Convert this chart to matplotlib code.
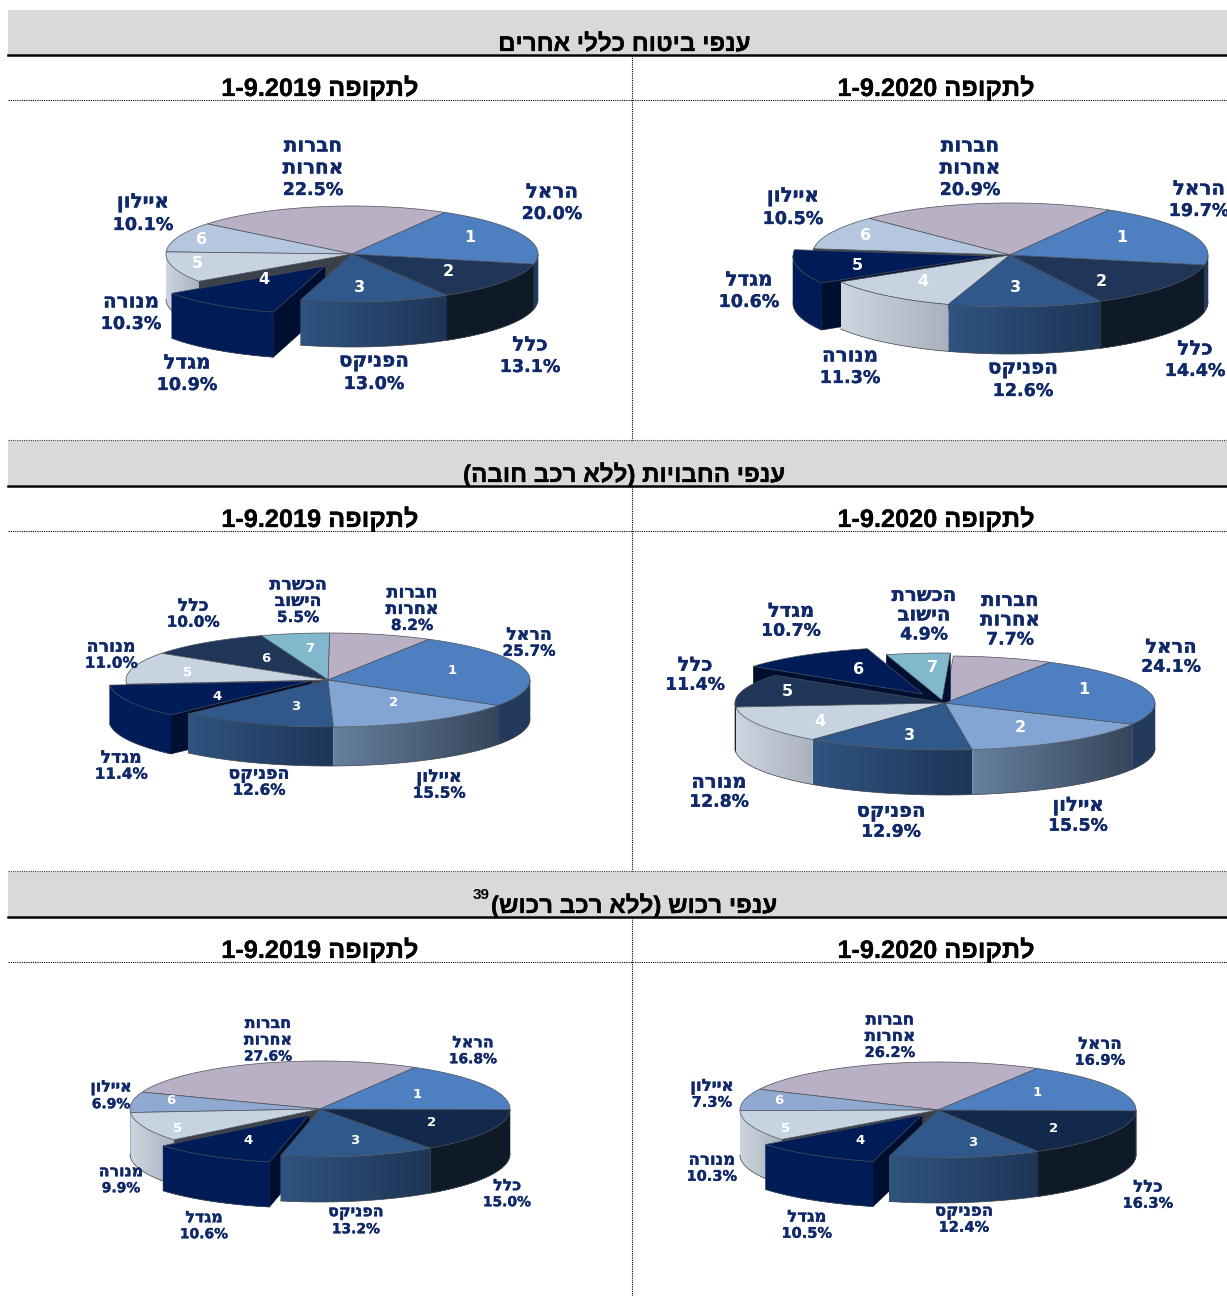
import re
import numpy as np
import matplotlib
matplotlib.use('Agg')
import matplotlib.pyplot as plt
import matplotlib.patheffects as pe
from matplotlib.patches import Polygon, Rectangle

# ---------- data ----------
HAREL, CLAL, PHOENIX, MENORA, MIGDAL, AYALON, OTHERS, HACH = (
    'הראל', 'כלל', 'הפניקס', 'מנורה', 'מגדל', 'איילון', 'חברות\nאחרות', 'הכשרת\nהישוב')

section_titles = ['ענפי ביטוח כללי אחרים', 'ענפי החבויות (ללא רכב חובה)', 'ענפי רכוש (ללא רכב רכוש)']
period_titles = ['לתקופה 1-9.2020', 'לתקופה 1-9.2019']
footnote_mark = '39'

general_2020_names = [HAREL, CLAL, PHOENIX, MENORA, MIGDAL, AYALON, OTHERS]
general_2020_values = [19.7, 14.4, 12.6, 11.3, 10.6, 10.5, 20.9]
general_2019_names = [HAREL, CLAL, PHOENIX, MIGDAL, MENORA, AYALON, OTHERS]
general_2019_values = [20.0, 13.1, 13.0, 10.9, 10.3, 10.1, 22.5]
liability_2020_names = [HAREL, AYALON, PHOENIX, MENORA, CLAL, MIGDAL, HACH, OTHERS]
liability_2020_values = [24.1, 15.5, 12.9, 12.8, 11.4, 10.7, 4.9, 7.7]
liability_2019_names = [HAREL, AYALON, PHOENIX, MIGDAL, MENORA, CLAL, HACH, OTHERS]
liability_2019_values = [25.7, 15.5, 12.6, 11.4, 11.0, 10.0, 5.5, 8.2]
property_2020_names = [HAREL, CLAL, PHOENIX, MIGDAL, MENORA, AYALON, OTHERS]
property_2020_values = [16.9, 16.3, 12.4, 10.5, 10.3, 7.3, 26.2]
property_2019_names = [HAREL, CLAL, PHOENIX, MIGDAL, MENORA, AYALON, OTHERS]
property_2019_values = [16.8, 15.0, 13.2, 10.6, 9.9, 6.9, 27.6]

# ---------- styles ----------
LABEL_COLOR = '#10296A'
GREY_BAND = '#D9D9D9'
CUT_FACE = '#000E30'
TOP = {HAREL: '#4E80C1', CLAL: '#1F3658', PHOENIX: '#30588A', MENORA: '#C8D3E1',
       MIGDAL: '#001C58', AYALON: '#B5C7DE', OTHERS: '#B9B0C5', HACH: '#82B8CC'}
SIDE = {HAREL: ('#233A5C', '#233A5C'), CLAL: ('#0E1A28', '#0E1A28'),
        PHOENIX: ('#2F5480', '#1E3556'), MENORA: ('#CCD5E0', '#A8B1BC'),
        MIGDAL: ('#001C58', '#001C58'), AYALON: ('#66809F', '#36465A'),
        OTHERS: ('#8A8494', '#8A8494'), HACH: ('#5E8A9A', '#5E8A9A')}

panels = [
    dict(names=general_2020_names, values=general_2020_values, c=(1010, 255), rx=198, ry=52, depth=47,
         start=60, explode={MIGDAL: (-19, 1)}, fs=12.6, nfs=11.5, pitch=22, overrides={},
         pos=[(1199, 200), (1195, 360), (1023, 380), (850, 367), (749, 291), (793, 208), (970, 168)],
         numpos=[(1122, 238), (1101, 281), (1015, 288), (923, 282), (857, 265), (866, 235)]),
    dict(names=general_2019_names, values=general_2019_values, c=(352, 254), rx=186, ry=48, depth=45,
         start=60, explode={MIGDAL: (-27, 12)}, fs=12.6, nfs=11.5, pitch=22, overrides={},
         pos=[(552, 203), (530, 356), (374, 373), (187, 374), (131, 313), (143, 214), (313, 168)],
         numpos=[(470, 237), (448, 272), (359, 287), (264, 280), (197, 263), (202, 239)]),
    dict(names=liability_2020_names, values=liability_2020_values, c=(945, 703), rx=210, ry=47, depth=45,
         start=60, explode={MIGDAL: (-22, -9), HACH: (-3, -3)}, fs=12.4, nfs=11.5, pitch=19.5,
         overrides={AYALON: '#82A5D4'},
         pos=[(1171, 657), (1078, 816), (891, 822), (719, 792), (695, 675), (791, 621), (924, 615), (1010, 620)],
         numpos=[(1084, 689), (1020, 728), (909, 735), (820, 722), (787, 691), (859, 669), (932, 667)]),
    dict(names=liability_2019_names, values=liability_2019_values, c=(328, 680), rx=202, ry=47, depth=39,
         start=60, explode={MIGDAL: (-17, 1)}, fs=11.0, nfs=9.5, pitch=16.5,
         overrides={AYALON: '#82A5D4'},
         pos=[(529, 643), (439, 785), (259, 782), (121, 766), (111, 655), (193, 614), (298, 601), (412, 609)],
         numpos=[(452, 670), (394, 702), (296, 707), (217, 697), (188, 673), (266, 658), (310, 649)]),
    dict(names=property_2020_names, values=property_2020_values, c=(938, 1110), rx=198, ry=48, depth=45,
         start=60, explode={MIGDAL: (-16, 5)}, fs=10.5, nfs=9.5, pitch=16.5,
         overrides={AYALON: '#8FA9D0', CLAL: '#13294B'},
         pos=[(1100, 1052), (1148, 1195), (964, 1219), (807, 1225), (712, 1168), (712, 1094), (890, 1036)],
         numpos=[(1037, 1093), (1054, 1128), (973, 1143), (860, 1140), (786, 1128), (779, 1100)]),
    dict(names=property_2019_names, values=property_2019_values, c=(320, 1109), rx=190, ry=48, depth=45,
         start=60, explode={MIGDAL: (-11, 6)}, fs=10.0, nfs=9.5, pitch=16.5,
         overrides={AYALON: '#8FA9D0', CLAL: '#13294B'},
         pos=[(473, 1051), (507, 1194), (356, 1221), (204, 1226), (121, 1180), (111, 1096), (268, 1040)],
         numpos=[(417, 1094), (432, 1122), (355, 1141), (248, 1140), (178, 1128), (171, 1101)]),
]


def vis(s):
    """Hebrew logical order to visual order (matplotlib has no bidi)."""
    r = s[::-1]
    r = re.sub(r'[0-9.\-]+', lambda m: m.group(0)[::-1], r)
    return r.translate(str.maketrans('()', ')('))


fig = plt.figure(figsize=(12.27, 12.96), dpi=100, facecolor='white')
ax = fig.add_axes([0, 0, 1, 1])
ax.axis('off')

Z = [2.0]


def nz():
    Z[0] += 0.01
    return Z[0]


def draw_slice_side(name, ta, tb, off, p):
    cx, cy = p['c'][0] + off[0], p['c'][1] + off[1]
    rx, ry, d = p['rx'], p['ry'], p['depth']
    ts = np.linspace(ta, tb, max(2, int(abs(ta - tb) * 2) + 1))
    vis_t = ts[np.sin(np.radians(ts)) <= 0.0]
    if len(vis_t) < 2:
        return
    rad = np.radians(vis_t)
    x = cx + rx * np.cos(rad)
    y = cy - ry * np.sin(rad)
    pts = list(zip(x, y)) + list(zip(x[::-1], y[::-1] + d))
    c1, c2 = SIDE[name]
    if c1 == c2:
        ax.add_patch(Polygon(pts, closed=True, facecolor=c1, edgecolor=c1, lw=0.4, zorder=nz()))
    else:
        clip = Polygon(pts, closed=True, facecolor='none', edgecolor='none', transform=ax.transData)
        rgb1, rgb2 = np.array(matplotlib.colors.to_rgb(c1)), np.array(matplotlib.colors.to_rgb(c2))
        g = np.linspace(0, 1, 128)[None, :, None]
        img = rgb1[None, None, :] + (rgb2 - rgb1)[None, None, :] * g
        im = ax.imshow(img, extent=(x.min(), x.max(), y.max() + d, y.min()), aspect='auto',
                       interpolation='bilinear', zorder=nz())
        im.set_clip_path(clip)
    ax.plot(x, y + d, color='#3A3E46', lw=0.5, zorder=nz())


def draw_face(t, off, p, color):
    cx, cy = p['c'][0] + off[0], p['c'][1] + off[1]
    x = cx + p['rx'] * np.cos(np.radians(t))
    y = cy - p['ry'] * np.sin(np.radians(t))
    d = p['depth']
    ax.add_patch(Polygon([(cx, cy), (x, y), (x, y + d), (cx, cy + d)], closed=True,
                         facecolor=color, edgecolor=color, lw=0.4, zorder=nz()))


def draw_top(color, ta, tb, off, p):
    cx, cy = p['c'][0] + off[0], p['c'][1] + off[1]
    ts = np.radians(np.linspace(ta, tb, 90))
    pts = [(cx, cy)] + list(zip(cx + p['rx'] * np.cos(ts), cy - p['ry'] * np.sin(ts)))
    ax.add_patch(Polygon(pts, closed=True, facecolor=color, edgecolor='#4A4F58', lw=0.5, zorder=nz()))


def draw_pie(p):
    vals = np.array(p['values'], float)
    frac = vals / vals.sum()
    edges = p['start'] - 360 * np.concatenate([[0], np.cumsum(frac)])
    top = {**TOP, **p['overrides']}
    n_s = len(vals)
    moved = [p['names'][i] in p['explode'] for i in range(n_s)]
    # paint from the last slice back to the first so nearer slices overlap farther ones
    for i in range(n_s - 1, -1, -1):
        name = p['names'][i]
        off = p['explode'].get(name, (0, 0))
        col = CUT_FACE if moved[i] else '#3C4048'
        if (moved[i] or (i > 0 and moved[i - 1])) and np.cos(np.radians(edges[i])) < 0:
            draw_face(edges[i], off, p, col)
        if (moved[i] or (i < n_s - 1 and moved[i + 1])) and np.cos(np.radians(edges[i + 1])) > 0:
            draw_face(edges[i + 1], off, p, col)
        draw_slice_side(name, edges[i], edges[i + 1], off, p)
        draw_top(top[name], edges[i], edges[i + 1], off, p)

    for n, (nx, ny) in enumerate(p['numpos'], start=1):
        ax.text(nx, ny, str(n), color='white', fontsize=p['nfs'], fontweight='bold',
                family='DejaVu Sans', ha='center', va='center', zorder=50)
    for i in range(n_s):
        name = p['names'][i]
        lines = name.split('\n') + [f'{p["values"][i]:.1f}%']
        x0, yc = p['pos'][i]
        for j, line in enumerate(lines):
            is_pct = j == len(lines) - 1
            ax.text(x0, yc + (j - (len(lines) - 1) / 2) * p['pitch'],
                    line if is_pct else vis(line), color=LABEL_COLOR,
                    fontsize=p['fs'] * (1.0 if is_pct else 1.14),
                    fontweight='bold', family='DejaVu Sans', ha='center', va='center', zorder=50,
                    path_effects=[pe.withStroke(linewidth=0.2, foreground=LABEL_COLOR)])


# ---------- frame ----------
band_tops = [10, 441, 872]
for k, by in enumerate(band_tops):
    ax.add_patch(Rectangle((8, by), 1219, 44, facecolor=GREY_BAND, edgecolor='none', zorder=0.5))
    ax.plot([8, 1227], [by + 44.5, by + 44.5], color='black', lw=1.8, zorder=1)
    ax.plot([8, 1227], [by + 90, by + 90], color='black', lw=0.8, ls=(0, (1, 1)), zorder=1)
    if k > 0:
        ax.plot([8, 1227], [by - 1, by - 1], color='#333333', lw=0.8, ls=(0, (1, 1)), zorder=1)
    bottom = band_tops[k + 1] - 1 if k < 2 else 1296
    ax.plot([631.5, 631.5], [by + 45, bottom], color='black', lw=0.8, ls=(0, (1, 1)), zorder=1)

title_x = [624, 624, 634]
title_fx = [pe.withStroke(linewidth=0.2, foreground='black')]
for k, by in enumerate(band_tops):
    ax.text(title_x[k], by + 41, vis(section_titles[k]), fontsize=17.4, fontweight='bold',
            family='Liberation Sans', ha='center', va='baseline', color='black', path_effects=title_fx)
    ax.text(936, by + 86, vis(period_titles[0]), fontsize=18.2, fontweight='bold',
            family='Liberation Sans', ha='center', va='baseline', color='black', path_effects=title_fx)
    ax.text(320, by + 86, vis(period_titles[1]), fontsize=18.2, fontweight='bold',
            family='Liberation Sans', ha='center', va='baseline', color='black', path_effects=title_fx)
ax.text(481, 895, footnote_mark, fontsize=11, fontweight='bold', family='Liberation Sans',
        ha='center', va='center', color='black')

for p in panels:
    draw_pie(p)

ax.set_xlim(0, 1227)
ax.set_ylim(1296, 0)
fig.savefig('out.png', dpi=100, facecolor='white')
